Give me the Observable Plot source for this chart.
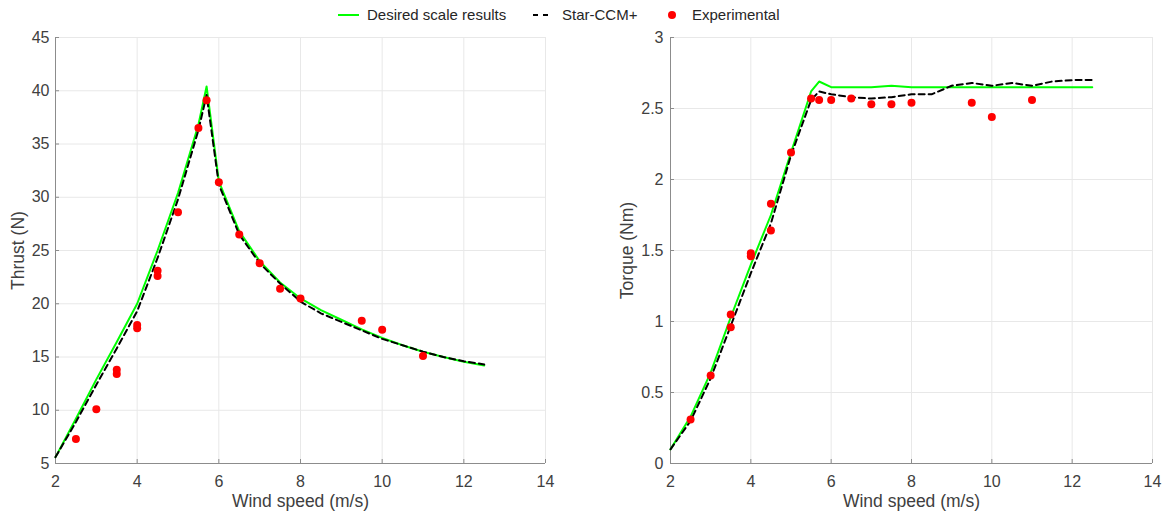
<!DOCTYPE html>
<html>
<head>
<meta charset="utf-8">
<script src="https://cdn.jsdelivr.net/npm/d3@7"></script>
<script src="https://cdn.jsdelivr.net/npm/@observablehq/plot@0.6"></script>
<style>
  body { margin: 0; background: #fff; font-family: "Liberation Sans", Arial, sans-serif; }
  #legend { position: relative; width: 1164px; height: 20px; }
  #legend .txt { position: absolute; top: 6px; font-size: 15px; line-height: 18px; color: #262626; white-space: nowrap; }
  #legend .sw { position: absolute; }
  #charts { display: flex; width: 1164px; }
  #charts svg { overflow: visible; }
</style>
</head>
<body>
<div id="legend"></div>
<div id="charts"></div>
<script>
// ---- Data ----
const windSim = [2, 2.5, 3, 3.5, 4, 4.5, 5, 5.5, 5.7, 6, 6.5, 7, 7.5, 8, 8.5, 9, 9.5, 10, 10.5, 11, 11.5, 12, 12.5];
const thrustDesired = [5.6, 9.2, 12.9, 16.4, 20.0, 25.0, 30.4, 36.8, 40.4, 31.5, 26.8, 24.0, 22.0, 20.5, 19.4, 18.5, 17.6, 16.8, 16.1, 15.5, 15.0, 14.55, 14.2];
const thrustStar    = [5.6, 8.9, 12.4, 15.8, 19.3, 24.3, 29.8, 36.3, 39.6, 31.2, 26.5, 23.8, 21.9, 20.2, 19.1, 18.3, 17.5, 16.7, 16.1, 15.5, 15.0, 14.6, 14.3];
const torqueDesired = [0.1, 0.33, 0.64, 1.03, 1.40, 1.75, 2.19, 2.62, 2.69, 2.65, 2.65, 2.65, 2.66, 2.65, 2.65, 2.65, 2.65, 2.65, 2.65, 2.65, 2.65, 2.65, 2.65];
const torqueStar    = [0.1, 0.30, 0.60, 0.97, 1.34, 1.69, 2.17, 2.56, 2.62, 2.60, 2.58, 2.57, 2.58, 2.60, 2.60, 2.66, 2.68, 2.66, 2.68, 2.66, 2.69, 2.70, 2.70];

const windExp   = [2.5, 3, 3.5, 3.5, 4, 4, 4.5, 4.5, 5, 5.5, 5.7, 6, 6.5, 7, 7.5, 8, 9.5, 10, 11];
const thrustExp = [7.3, 10.1, 13.8, 13.4, 18.0, 17.7, 23.1, 22.6, 28.6, 36.5, 39.1, 31.4, 26.5, 23.8, 21.4, 20.5, 18.4, 17.55, 15.1];
const torqueExp = [0.31, 0.62, 0.96, 1.05, 1.48, 1.46, 1.64, 1.83, 2.19, 2.57, 2.56, 2.56, 2.57, 2.53, 2.53, 2.54, 2.54, 2.44, 2.56];

const xTicks = [2, 4, 6, 8, 10, 12, 14];
const thrustTicks = [5, 10, 15, 20, 25, 30, 35, 40, 45];
const torqueTicks = [0, 0.5, 1, 1.5, 2, 2.5, 3];

const seriesNames = ["Desired scale results", "Star-CCM+", "Experimental"];
const xLabel = "Wind speed (m/s)";

// ---- Styles ----
const GREEN = "#00ff00", RED = "#ff0000", DASH = "#000000";
const AXIS = "#8c8c8c", GRID = "#e8e8e8", TXT = "#404040";
const W = 582, H = 495, MT = 17, MB = 52;

function makeChart({yDomain, yTicks, desired, star, exp, yLabel, ml, mr, labelDx, padY}) {
  const ph = H - MT - MB, pw = W - ml - mr;
  const dTable = windSim.map((w, i) => ({w, v: desired[i]}));
  const sTable = windSim.map((w, i) => ({w, v: star[i]}));
  const eTable = windExp.map((w, i) => ({w, v: exp[i]}));
  return Plot.plot({
    width: W, height: H,
    marginLeft: ml, marginRight: mr, marginTop: MT, marginBottom: MB,
    style: {fontFamily: "'Liberation Sans', Arial, sans-serif", fontSize: "16px", color: TXT, background: "white", overflow: "visible"},
    x: {domain: [2, 14]},
    y: {domain: yDomain},
    marks: [
      Plot.gridX(xTicks, {stroke: GRID, strokeOpacity: 1}),
      Plot.gridY(yTicks, {stroke: GRID, strokeOpacity: 1}),
      Plot.ruleX([2], {stroke: AXIS}),
      Plot.ruleY([yDomain[0]], {stroke: AXIS}),
      Plot.tickX(xTicks, {stroke: AXIS, insetTop: ph - 4}),
      Plot.tickY(yTicks, {stroke: AXIS, insetRight: pw - 4}),
      Plot.axisX(xTicks, {tickSize: 0, tickPadding: 12, label: null, fill: TXT, fontSize: 16}),
      Plot.axisY(yTicks, {tickSize: 0, tickPadding: padY, label: null, tickFormat: d3.format("~g"), fill: TXT, fontSize: 16}),
      Plot.line(dTable, {x: "w", y: "v", stroke: GREEN, strokeWidth: 2}),
      Plot.line(sTable, {x: "w", y: "v", stroke: DASH, strokeWidth: 2, strokeDasharray: "6,4"}),
      Plot.dot(eTable, {x: "w", y: "v", r: 4, fill: RED, stroke: "none"}),
      Plot.text([xLabel], {text: d => d, frameAnchor: "bottom", lineAnchor: "middle", textAnchor: "middle", dy: 38, fontSize: 17.5, fill: TXT}),
      Plot.text([yLabel], {text: d => d, frameAnchor: "left", lineAnchor: "middle", textAnchor: "middle", dx: labelDx, rotate: -90, fontSize: 17.5, fill: TXT})
    ]
  });
}

const left = makeChart({
  yDomain: [5, 45], yTicks: thrustTicks, desired: thrustDesired, star: thrustStar, exp: thrustExp,
  yLabel: "Thrust (N)", ml: 55, mr: 37, labelDx: -37, padY: 6
});
const right = makeChart({
  yDomain: [0, 3], yTicks: torqueTicks, desired: torqueDesired, star: torqueStar, exp: torqueExp,
  yLabel: "Torque (Nm)", ml: 88, mr: 12, labelDx: -43, padY: 7
});
document.getElementById("charts").append(left, right);

// ---- Legend ----
const legend = document.getElementById("legend");
legend.innerHTML = `
  <div class="sw" style="left:338px;top:14px;width:21px;height:0;border-top:2px solid ${GREEN}"></div>
  <div class="txt" style="left:367px">${seriesNames[0]}</div>
  <div class="sw" style="left:533px;top:14px;width:5px;height:0;border-top:2px solid ${DASH}"></div>
  <div class="sw" style="left:543px;top:14px;width:5px;height:0;border-top:2px solid ${DASH}"></div>
  <div class="txt" style="left:562px">${seriesNames[1]}</div>
  <div class="sw" style="left:668px;top:11px;width:8px;height:8px;border-radius:50%;background:${RED}"></div>
  <div class="txt" style="left:692px">${seriesNames[2]}</div>
`;
</script>
</body>
</html>
